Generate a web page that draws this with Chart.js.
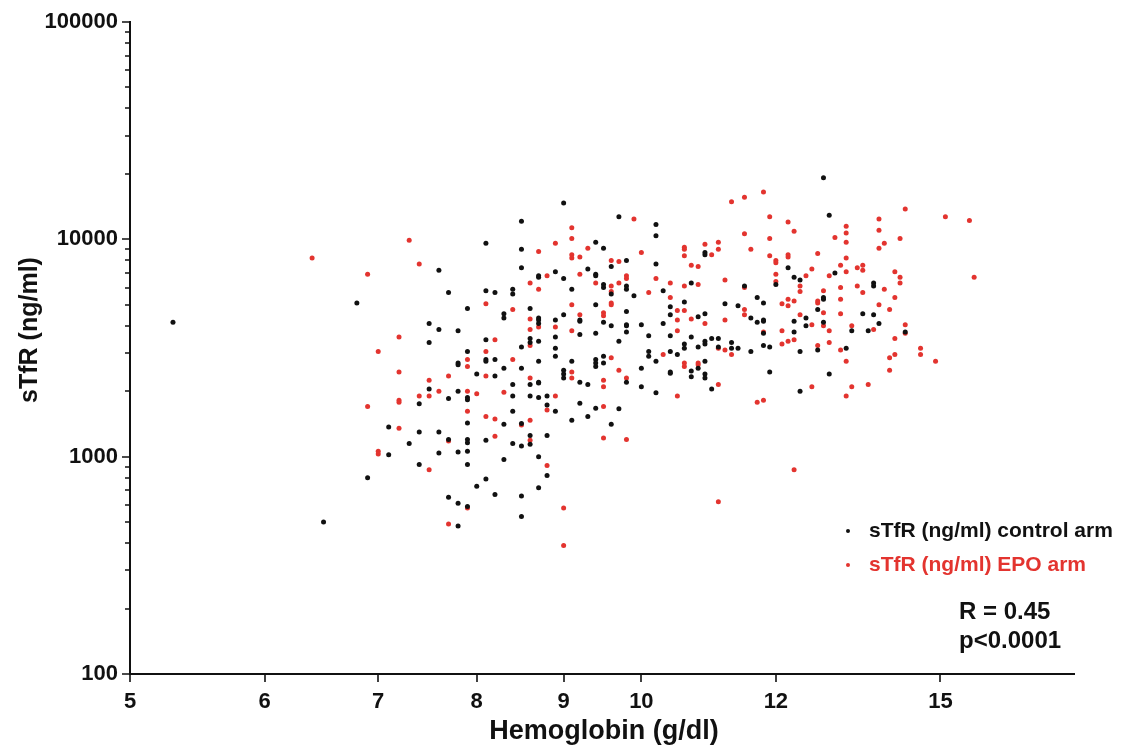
<!DOCTYPE html>
<html>
<head>
<meta charset="utf-8">
<title>sTfR vs Hemoglobin</title>
<script src="https://cdn.jsdelivr.net/npm/chart.js@4/dist/chart.umd.min.js"></script>
<style>
  html, body { margin: 0; padding: 0; background: #fff; }
  #wrap { width: 1121px; height: 746px; }
</style>
</head>
<body>
<div id="wrap"><canvas id="chart" width="1121" height="746"></canvas></div>
<script>
// ---- data: [hemoglobin g/dl, sTfR ng/ml] ----
const controlArm = [
  [5.3,4150],[6.5,500],[7.6,7200],[7.7,5700],[6.8,5100],[7.5,4100],[7.6,3850],[7.8,3800],
  [7.5,3350],[7.8,2700],[7.8,2650],[7.5,2050],[7.8,2000],[7.4,1750],[7.7,1850],[7.1,1370],
  [7.4,1300],[7.6,1300],[7.3,1150],[7.7,1200],[7.1,1020],[7.6,1040],[7.8,1050],[7.4,920],
  [6.9,800],[7.7,650],[7.8,610],[7.8,480],
  [9.0,14700],[8.5,12100],[8.1,9600],[8.5,9000],[9.4,9700],[8.5,7400],[9.3,7300],[8.7,6800],
  [8.7,6700],[8.9,7100],[9.0,6600],[9.4,6900],[9.1,5900],[8.1,5800],[8.2,5700],[8.4,5900],
  [8.4,5600],[7.9,4800],[8.3,4550],[8.3,4350],[8.6,4800],[8.7,4350],[8.7,4250],[8.7,4100],
  [8.9,4250],[9.0,4500],[9.2,4250],[9.2,4200],[9.4,5000],[9.2,3650],[9.4,3700],[8.1,3450],
  [8.9,3550],[8.6,3500],[8.6,3350],[8.5,3200],[8.7,3400],[8.9,3150],[7.9,3050],[8.9,2900],
  [8.1,2800],[8.1,2750],[8.2,2800],[8.7,2750],[9.1,2750],[9.4,2800],
  [8.0,2400],[8.2,2350],[8.3,2550],[8.5,2550],[8.6,2150],[8.7,2200],[8.7,2180],[8.4,2150],
  [9.0,2500],[9.0,2400],[9.0,2300],[9.2,2200],[9.3,2150],[8.4,1900],[8.6,1900],[8.7,1870],
  [8.8,1900],[7.9,1870],[7.9,1830],[8.8,1730],[8.9,1620],[9.2,1760],[9.4,1670],[8.4,1620],
  [7.9,1430],[8.3,1410],[8.5,1420],[9.1,1470],[9.3,1530],[7.9,1200],[7.9,1160],[8.1,1190],
  [8.4,1150],[8.5,1120],[8.6,1250],[8.6,1140],[8.8,1250],[7.9,1060],[8.3,970],[7.9,920],
  [8.7,1000],[8.8,820],[8.1,790],[8.0,730],[8.7,720],[8.2,670],[8.5,660],[7.9,590],[8.5,530],
  [9.7,12700],[10.2,11700],[10.2,10400],[9.5,9100],[9.8,8000],[9.6,7500],[10.2,7700],[9.4,6800],
  [9.5,6200],[9.5,6000],[9.8,6100],[9.8,5900],[9.6,5600],[9.9,5500],[10.3,5800],[9.5,4150],
  [9.6,4000],[9.8,4650],[9.8,4050],[9.8,4000],[9.8,3750],[10.0,4050],[9.7,3400],[10.1,3600],
  [10.3,4100],[10.4,4900],[10.4,4500],[10.4,3600],[10.1,3050],[10.1,2900],[10.4,3050],[10.5,2950],
  [9.4,2700],[9.5,2900],[9.5,2700],[10.2,2750],[10.9,8700],[10.9,8500],[10.7,6300],[10.6,5150],
  [10.8,4400],[10.9,4550],[10.7,3550],[10.6,3300],[10.6,3150],[10.8,3200],[10.9,3400],[10.9,3300],
  [11.0,3500],[11.1,3500],[11.1,3200],[11.2,5050],[10.9,2750],
  [9.4,2600],[9.8,2200],[10.0,2550],[10.0,2100],[10.2,1970],[10.4,2450],[10.4,2420],[10.7,2480],
  [10.7,2330],[10.8,2550],[10.9,2400],[10.9,2300],[11.0,2050],[9.7,1660],[9.6,1410],
  [12.8,19200],[12.9,12900],[12.2,7400],[12.3,6700],[12.4,6500],[12.0,6200],[11.5,6100],[13.0,7000],
  [12.8,5400],[12.8,5300],[11.4,4950],[11.7,5400],[11.8,5100],[11.6,4350],[11.7,4150],[11.8,4250],
  [11.8,4200],[12.7,4750],[12.5,4350],[12.3,4200],[12.8,4150],[12.5,4000],[11.8,3700],[12.3,3750],
  [11.3,3350],[11.3,3150],[11.4,3150],[11.6,3050],[11.8,3250],[11.9,3200],[12.4,3050],[12.7,3100],
  [13.2,3150],[13.3,3800],[11.9,2450],[12.9,2400],[12.4,2000],
  [13.7,6300],[13.7,6100],[13.5,4550],[13.7,4500],[13.8,4100],[13.6,3800],[14.3,3750]
];

const epoArm = [
  [6.4,8200],[7.3,9900],[7.4,7700],[6.9,6900],[7.2,3550],[7.0,3050],[7.2,2450],[7.5,2250],
  [7.7,2350],[7.6,2000],[7.4,1900],[7.5,1900],[7.2,1820],[7.2,1780],[6.9,1700],[7.2,1350],
  [7.7,1180],[7.0,1060],[7.0,1030],[7.5,870],[7.7,490],
  [9.1,11300],[8.9,9600],[9.1,10100],[9.3,9100],[8.7,8800],[9.1,8500],[9.1,8200],[9.2,8300],
  [8.8,6800],[8.6,6300],[9.2,6900],[9.4,6300],[8.7,5900],[8.1,5050],[8.4,4750],[8.6,4300],
  [8.7,3950],[8.6,3850],[9.1,5000],[9.2,4500],[8.9,3950],[9.1,3800],[8.2,3450],[8.6,3250],
  [8.1,3050],[7.9,2800],[8.4,2800],
  [7.9,2600],[8.1,2350],[8.6,2300],[9.1,2450],[9.1,2300],[7.9,2000],[8.0,1950],[8.3,1980],
  [8.9,1900],[8.8,1640],[7.9,1620],[8.1,1530],[8.2,1490],[8.5,1400],[8.6,1470],[8.2,1240],
  [8.6,1190],[8.8,910],[7.9,580],[9.0,580],[9.0,390],
  [9.9,12400],[10.0,8700],[9.6,8000],[9.7,7900],[9.8,6800],[9.8,6600],[9.7,6300],[9.6,6100],
  [10.2,6600],[9.6,5750],[10.1,5700],[10.4,6300],[10.4,5400],[9.6,5100],[9.6,5000],[9.5,4600],
  [9.5,4450],[10.3,2950],[9.6,2850],[10.6,9200],[10.6,9000],[10.6,8400],[10.9,9500],[11.0,8500],
  [11.1,9700],[11.1,9000],[10.7,7600],[10.8,7500],[10.6,6100],[10.8,6200],[11.2,6500],[10.6,4700],
  [10.5,4700],[10.5,4250],[10.5,3800],[10.7,4300],[10.9,4100],[11.1,3150],[11.2,4250],[11.2,3100],
  [10.8,2700],[10.6,2700],
  [9.7,2500],[9.8,2300],[9.5,2250],[9.5,2100],[10.5,1900],[10.6,2600],[10.8,2650],[11.1,2150],
  [9.5,1700],[9.5,1220],[9.8,1200],[11.1,620],
  [11.3,14900],[11.5,15600],[11.8,16500],[11.9,12700],[12.2,12000],[12.3,10900],[11.5,10600],[11.9,10100],
  [11.6,9000],[11.9,8400],[12.0,8000],[12.0,7800],[12.2,8500],[12.2,8300],[12.7,8600],[12.6,7300],
  [12.0,6900],[12.5,6800],[12.0,6400],[11.5,6000],[12.4,6100],[12.4,5750],[12.9,6800],[13.2,11500],
  [13.2,10700],[13.2,9700],[13.0,10200],[13.2,8200],[13.1,7600],[13.2,7100],[13.1,6000],[12.8,5800],
  [12.7,5200],[12.7,5100],[12.1,5050],[12.2,5300],[12.2,4950],[12.3,5200],[13.1,5300],[11.5,4750],
  [11.5,4500],[12.4,4500],[12.8,4600],[13.1,4550],[12.6,4050],[12.8,4000],[12.9,3800],[11.8,3750],
  [12.1,3800],[12.3,3450],[12.2,3400],[12.1,3300],[12.9,3350],[12.7,3250],[13.1,3100],[11.3,2950],
  [13.2,2750],[13.3,4000],
  [12.6,2100],[13.3,2100],[13.2,1900],[11.7,1780],[11.8,1820],[12.3,870],
  [14.3,13800],[15.1,12700],[15.6,12200],[13.8,12400],[13.8,11000],[14.2,10100],[13.9,9600],[13.8,9100],
  [13.4,7400],[13.5,7600],[13.5,7200],[14.1,7100],[14.2,6700],[14.2,6300],[15.7,6700],[13.4,6100],
  [13.9,5900],[13.5,5700],[14.1,5400],[13.8,5000],[14.0,4750],[14.3,4050],[13.7,3850],[14.3,3700],
  [14.1,3500],[14.6,3150],[14.6,2950],[14.1,2950],[14.0,2850],[14.9,2750],[13.6,2150],[14.0,2500]
];

const xTicks = [5, 6, 7, 8, 9, 10, 12, 15];
const yTicks = [100, 1000, 10000, 100000];
const seriesNames = ["sTfR (ng/ml) control arm", "sTfR (ng/ml) EPO arm"];
const statLines = ["R = 0.45", "p<0.0001"];
const xTitle = "Hemoglobin (g/dl)";
const yTitle = "sTfR (ng/ml)";

const BLACK = "#111111";
const RED = "#e3342f";
const FONT = "'Liberation Sans', Arial, sans-serif";

// minor log ticks 2..9 per decade for the y axis
const yMinor = [];
for (let d = 100; d < 100000; d *= 10) for (let k = 2; k <= 9; k++) yMinor.push(d * k);

// axis lines + tick marks, drawn at the scales' own pixel positions
const axesPlugin = {
  id: "axes",
  afterDraw(chart) {
    const { ctx, chartArea: a, scales: { x, y } } = chart;
    ctx.save();
    ctx.strokeStyle = BLACK;
    ctx.lineWidth = 2;
    ctx.beginPath();
    ctx.moveTo(a.left, a.top - 1); ctx.lineTo(a.left, a.bottom + 1);
    ctx.moveTo(a.left - 1, a.bottom); ctx.lineTo(a.right, a.bottom);
    ctx.stroke();
    ctx.lineWidth = 1.6;
    ctx.beginPath();
    yTicks.forEach(v => { const py = Math.round(y.getPixelForValue(v)); ctx.moveTo(a.left, py); ctx.lineTo(a.left - 8, py); });
    yMinor.forEach(v => { const py = Math.round(y.getPixelForValue(v)); ctx.moveTo(a.left, py); ctx.lineTo(a.left - 5, py); });
    xTicks.forEach(v => { const px = Math.round(x.getPixelForValue(v)); ctx.moveTo(px, a.bottom); ctx.lineTo(px, a.bottom + 8); });
    ctx.stroke();

    // axis titles
    ctx.fillStyle = BLACK;
    ctx.textAlign = "center";
    ctx.textBaseline = "middle";
    ctx.font = "bold 27px " + FONT;
    ctx.fillText(xTitle, 604, 732);
    ctx.translate(30, 330);
    ctx.rotate(-Math.PI / 2);
    ctx.font = "bold 25px " + FONT;
    ctx.fillText(yTitle, 0, 0);
    ctx.restore();
  }
};

// legend and stats inside the plot, bottom right
const notesPlugin = {
  id: "notes",
  afterDraw(chart) {
    const ctx = chart.ctx;
    ctx.save();
    ctx.textBaseline = "middle";
    ctx.font = "bold 21px " + FONT;
    [BLACK, RED].forEach((c, i) => {
      const ly = 531 + i * 34;
      ctx.fillStyle = c;
      ctx.beginPath(); ctx.arc(848, ly, 2, 0, Math.PI * 2); ctx.fill();
      ctx.fillText(seriesNames[i], 869, ly);
    });
    ctx.fillStyle = BLACK;
    ctx.font = "bold 24px " + FONT;
    statLines.forEach((t, i) => ctx.fillText(t, 959, 612 + i * 29));
    ctx.restore();
  }
};

const ctx = document.getElementById("chart").getContext("2d");
new Chart(ctx, {
  type: "scatter",
  data: {
    datasets: [
      { label: seriesNames[0], data: controlArm.map(p => ({ x: p[0], y: p[1] })),
        backgroundColor: BLACK, borderWidth: 0, pointRadius: 2.5 },
      { label: seriesNames[1], data: epoArm.map(p => ({ x: p[0], y: p[1] })),
        backgroundColor: RED, borderWidth: 0, pointRadius: 2.5 }
    ]
  },
  options: {
    responsive: false,
    animation: false,
    layout: { padding: { left: 0, right: 46, top: 22, bottom: 0 } },
    plugins: { legend: { display: false }, tooltip: { enabled: false } },
    scales: {
      x: {
        type: "logarithmic", min: 5, max: 18,
        afterBuildTicks: s => { s.ticks = xTicks.map(v => ({ value: v })); },
        afterFit: s => { s.height = 72; },
        grid: { display: false }, border: { display: false },
        ticks: { color: BLACK, padding: 7, maxRotation: 0, autoSkip: false,
                 font: { family: FONT, size: 22, weight: "bold" }, callback: v => String(v) },
        title: { display: false }
      },
      y: {
        type: "logarithmic", min: 100, max: 100000,
        afterBuildTicks: s => { s.ticks = yTicks.map(v => ({ value: v })); },
        afterFit: s => { s.width = 130; },
        grid: { display: false }, border: { display: false },
        ticks: { color: BLACK, padding: 4, autoSkip: false,
                 font: { family: FONT, size: 22, weight: "bold" }, callback: v => String(v) },
        title: { display: false }
      }
    }
  },
  plugins: [axesPlugin, notesPlugin]
});
</script>
</body>
</html>
